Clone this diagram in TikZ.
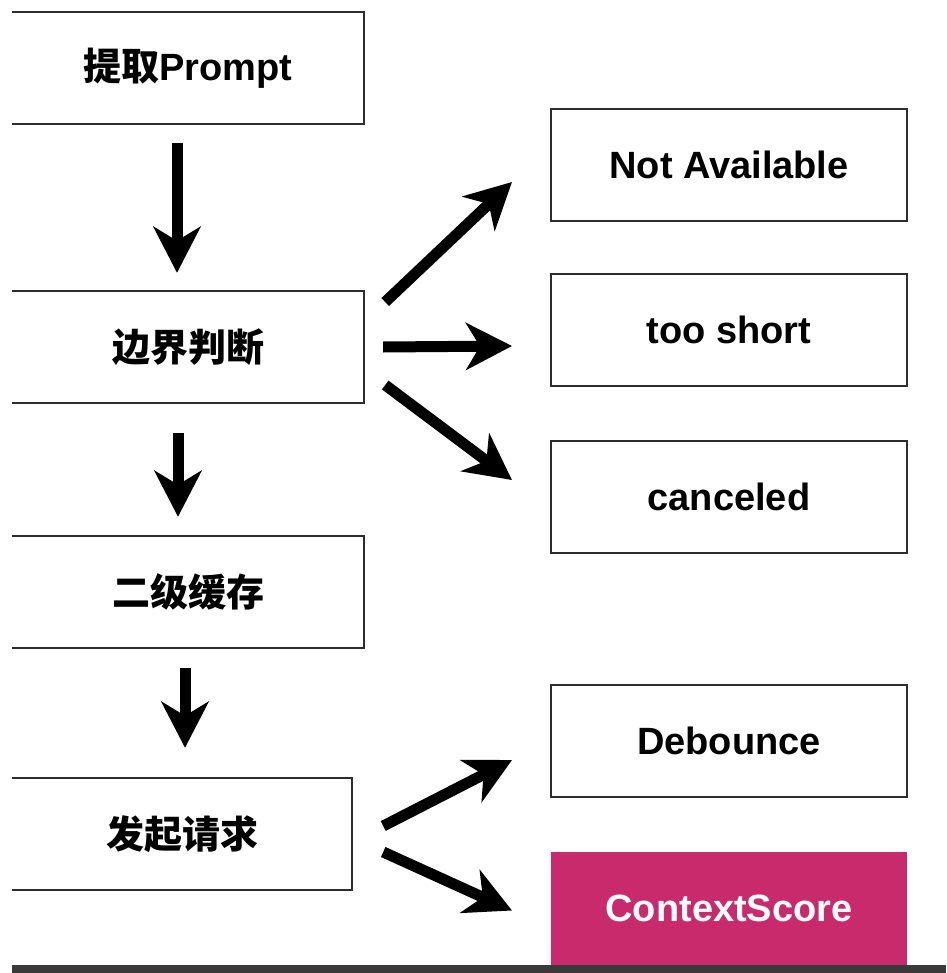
\documentclass[tikz,border=0pt]{standalone}
\usepackage{fontspec}
\setmainfont{Liberation Sans}
\newfontfamily\cjk{Noto Sans CJK SC}
\usetikzlibrary{arrows.meta}
\definecolor{edge}{RGB}{45,45,45}
\definecolor{rose}{RGB}{201,42,108}
\definecolor{bar}{RGB}{58,58,58}
\tikzset{
  lbox/.style={draw=none, minimum height=112pt, inner sep=0pt, font=\fontsize{38}{44}\selectfont\bfseries},
  rbox/.style={draw=edge, line width=2pt, minimum width=356pt, minimum height=112pt, inner sep=0pt, font=\fontsize{38}{44}\selectfont\bfseries},
  side/.style={draw=edge, line width=2pt},
  arr/.style={line width=11pt, -{Stealth[length=46pt, width=47pt, inset=14pt]}},
}
\begin{document}
\begin{tikzpicture}[x=1pt, y=-1pt]
\useasboundingbox[fill=white] (0,0) rectangle (946,973);
% left column
\node[lbox, minimum width=352pt] (b1) at (188,68) {{\cjk\bfseries 提取}Prompt};
\node[lbox, minimum width=352pt] (b2) at (188,347) {\cjk\bfseries 边界判断};
\node[lbox, minimum width=352pt] (b3) at (188,592) {\cjk\bfseries 二级缓存};
\node[lbox, minimum width=340pt] (b4) at (182,834) {\cjk\bfseries 发起请求};
\foreach \b in {b1,b2,b3,b4}{
  \draw[side] (\b.north west) -| (\b.south east) -- (\b.south west);
}
% right column
\node[rbox] (na) at (729,165) {Not Available};
\node[rbox] (ts) at (729,330) {too short};
\node[rbox] (ca) at (729,496.5) {canceled};
\node[rbox] (db) at (729,741) {Debounce};
\node[rbox, draw=none, fill=rose, text=white, minimum height=120pt] (cs) at (729,912) {};
\node[font=\fontsize{38}{44}\selectfont\bfseries, text=white, inner sep=0pt] (cst) at (729,908.5) {ContextScore};
% bottom bar
\fill[bar] (12,965) rectangle (946,973);
% vertical arrows
\draw[arr] ([xshift=-11pt,yshift=-19pt]b1.south) -- ([xshift=-11pt,yshift=18pt]b2.north);
\draw[arr] ([xshift=-10pt,yshift=-30pt]b2.south) -- ([xshift=-10pt,yshift=19pt]b3.north);
\draw[arr] ([xshift=-3pt,yshift=-20pt]b3.south) -- ([xshift=3pt,yshift=30pt]b4.north);
% branch arrows
\draw[arr] ([xshift=21pt,yshift=45pt]b2.east) -- ([xshift=-38pt,yshift=-17pt]na.west);
\draw[arr] ([xshift=19pt]b2.east) -- ([xshift=-38pt,yshift=-16pt]ts.west);
\draw[arr] ([xshift=21pt,yshift=-38pt]b2.east) -- ([xshift=-38pt,yshift=16.5pt]ca.west);
\draw[arr] ([xshift=31pt,yshift=8pt]b4.east) -- ([xshift=-38pt,yshift=-19pt]db.west);
\draw[arr] ([xshift=31pt,yshift=-18pt]b4.east) -- ([xshift=-38pt,yshift=1.5pt]cs.west);
\end{tikzpicture}
\end{document}
